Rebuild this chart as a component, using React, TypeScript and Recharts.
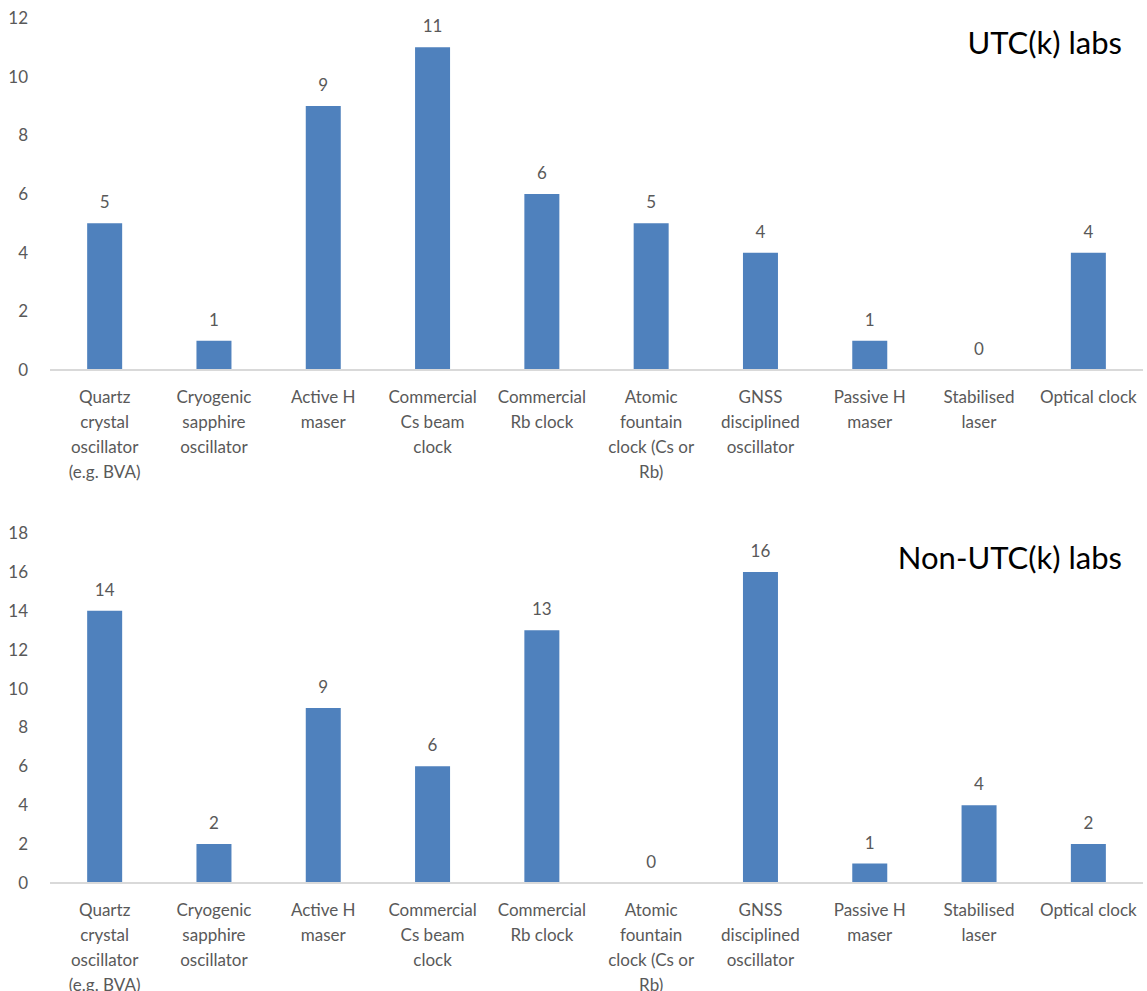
import React from "react";
import { BarChart, Bar, XAxis, YAxis, LabelList, Text } from "recharts";

const categories = [
  "Quartz\ncrystal\noscillator\n(e.g. BVA)",
  "Cryogenic\nsapphire\noscillator",
  "Active H\nmaser",
  "Commercial\nCs beam\nclock",
  "Commercial\nRb clock",
  "Atomic\nfountain\nclock (Cs or\nRb)",
  "GNSS\ndisciplined\noscillator",
  "Passive H\nmaser",
  "Stabilised\nlaser",
  "Optical clock",
];

const utcLabs = [5, 1, 9, 11, 6, 5, 4, 1, 0, 4];
const nonUtcLabs = [14, 2, 9, 6, 13, 0, 16, 1, 4, 2];

const utcTicks = [0, 2, 4, 6, 8, 10, 12];
const nonUtcTicks = [0, 2, 4, 6, 8, 10, 12, 14, 16, 18];

const FONT = "Lato, 'Open Sans', sans-serif";
const GREY = "#595959";
const BLUE = "#4f81bd";

function CategoryTick(props: any) {
  const { x, y, payload } = props;
  const lines = String(payload.value).split("\n");
  return (
    <g transform={`translate(${x},${y})`}>
      {lines.map((line, i) => (
        <text
          key={i}
          x={0}
          y={25 + i * 25}
          textAnchor="middle"
          fill={GREY}
          fontSize={17}
          fontFamily={FONT}
        >
          {line}
        </text>
      ))}
    </g>
  );
}

interface PanelProps {
  title: string;
  values: number[];
  ticks: number[];
  top: number;
  height: number;
  marginTop: number;
  axisHeight: number;
}

function Panel({ title, values, ticks, top, height, marginTop, axisHeight }: PanelProps) {
  const data = categories.map((name, i) => ({ name, value: values[i] }));
  return (
    <div style={{ position: "absolute", left: 0, top, width: 1147, height }}>
      <BarChart
        width={1147}
        height={height}
        data={data}
        margin={{ top: marginTop, right: 4, bottom: 0, left: 0 }}
        barCategoryGap="34%"
      >
        <XAxis
          dataKey="name"
          interval={0}
          height={axisHeight}
          tickLine={false}
          axisLine={{ stroke: "#d9d9d9", strokeWidth: 2 }}
          tick={<CategoryTick />}
        />
        <YAxis
          width={50}
          domain={[0, ticks[ticks.length - 1]]}
          ticks={ticks}
          axisLine={false}
          tickLine={false}
          tickMargin={16}
          tick={{ fill: GREY, fontSize: 17, fontFamily: FONT }}
        />
        {/* tiny min size keeps zero bars in the layout so their "0" label still shows */}
        <Bar dataKey="value" fill={BLUE} minPointSize={0.01} isAnimationActive={false}>
          <LabelList
            dataKey="value"
            position="top"
            offset={15}
            fill={GREY}
            fontSize={17}
            fontFamily={FONT}
          />
        </Bar>
        <Text
          x={1122}
          y={marginTop + 25}
          textAnchor="end"
          verticalAnchor="middle"
          fontSize={31}
          fontFamily={FONT}
          fill="#000"
        >
          {title}
        </Text>
      </BarChart>
    </div>
  );
}

export default function App() {
  return (
    <div style={{ position: "absolute", left: 0, top: 0, width: 1147, height: 991, background: "#fff" }}>
      <Panel title="UTC(k) labs" values={utcLabs} ticks={utcTicks} top={0} height={495} marginTop={18} axisHeight={125} />
      <Panel title="Non-UTC(k) labs" values={nonUtcLabs} ticks={nonUtcTicks} top={495} height={496} marginTop={38} axisHeight={108} />
    </div>
  );
}
